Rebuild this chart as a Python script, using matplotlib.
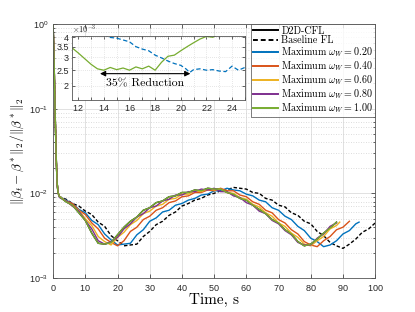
import numpy as np
import matplotlib
matplotlib.use("Agg")
import matplotlib.pyplot as plt
from matplotlib.ticker import FixedLocator, FixedFormatter, MultipleLocator, LogLocator, NullFormatter

plt.rcParams['font.family'] = ['Liberation Sans', 'DejaVu Sans']
plt.rcParams['mathtext.fontset'] = 'cm'
plt.rcParams['axes.formatter.use_mathtext'] = True

# ---- data (log10 of the relative error) ----
t_head = [0, 0.3, 0.6, 0.9, 1.2, 1.5]
e_head = [0, -0.45, -1.0, -1.5, -1.85, -1.99]

t_base = t_head + list(range(2, 101, 2))
e_base = e_head + [-2.04, -2.07, -2.12, -2.15, -2.21, -2.25, -2.34, -2.39, -2.50, -2.56,
                   -2.62, -2.61, -2.60, -2.51, -2.45, -2.37, -2.33, -2.26, -2.22, -2.15,
                   -2.12, -2.08, -2.06, -2.02, -2.00, -1.97, -1.96, -1.93, -1.94, -1.95,
                   -1.99, -2.00, -2.06, -2.08, -2.14, -2.16, -2.23, -2.26, -2.33, -2.36,
                   -2.45, -2.50, -2.58, -2.62, -2.65, -2.60, -2.54, -2.46, -2.42, -2.35]

t_w20 = t_head + list(range(2, 95, 2)) + [95]
e_w20 = e_head + [-2.04, -2.08, -2.12, -2.19, -2.23, -2.32, -2.37, -2.48, -2.55, -2.61,
                  -2.60, -2.59, -2.49, -2.43, -2.33, -2.29, -2.22, -2.20, -2.14, -2.12,
                  -2.08, -2.06, -2.02, -2.01, -1.97, -1.97, -1.94, -1.96, -1.97, -2.01,
                  -2.03, -2.08, -2.10, -2.17, -2.20, -2.27, -2.31, -2.39, -2.44, -2.53,
                  -2.57, -2.63, -2.61, -2.56, -2.48, -2.44, -2.36, -2.34]

t_w40 = t_head + list(range(2, 93, 2))
e_w40 = e_head + [-2.04, -2.09, -2.12, -2.20, -2.25, -2.35, -2.42, -2.53, -2.58, -2.62,
                  -2.56, -2.45, -2.40, -2.31, -2.27, -2.20, -2.17, -2.11, -2.09, -2.04,
                  -2.03, -1.99, -1.99, -1.96, -1.97, -1.94, -1.97, -1.97, -2.02, -2.04,
                  -2.10, -2.13, -2.20, -2.23, -2.31, -2.35, -2.43, -2.48, -2.57, -2.61,
                  -2.63, -2.56, -2.51, -2.43, -2.40, -2.33]

t_w60 = t_head + list(range(2, 89, 2)) + [89]
e_w60 = e_head + [-2.04, -2.09, -2.15, -2.20, -2.30, -2.38, -2.51, -2.57, -2.61, -2.52,
                  -2.46, -2.37, -2.32, -2.24, -2.21, -2.15, -2.13, -2.07, -2.06, -2.01,
                  -2.01, -1.97, -1.98, -1.95, -1.96, -1.95, -1.99, -2.00, -2.05, -2.07,
                  -2.13, -2.16, -2.23, -2.27, -2.35, -2.39, -2.47, -2.52, -2.60, -2.62,
                  -2.56, -2.51, -2.42, -2.38, -2.34]

t_w80 = t_head + list(range(2, 89, 2))
e_w80 = e_head + [-2.05, -2.09, -2.15, -2.21, -2.32, -2.42, -2.56, -2.60, -2.57, -2.52,
                  -2.42, -2.36, -2.28, -2.24, -2.17, -2.15, -2.09, -2.07, -2.02, -2.02,
                  -1.98, -1.98, -1.95, -1.96, -1.94, -1.98, -1.98, -2.03, -2.05, -2.11,
                  -2.14, -2.21, -2.24, -2.32, -2.36, -2.44, -2.49, -2.58, -2.61, -2.61,
                  -2.53, -2.48, -2.39, -2.35]

t_w100 = t_head + list(range(2, 89, 2))
e_w100 = e_head + [-2.04, -2.10, -2.14, -2.23, -2.32, -2.47, -2.59, -2.60, -2.58, -2.49,
                   -2.40, -2.33, -2.28, -2.20, -2.17, -2.11, -2.09, -2.04, -2.03, -1.99,
                   -1.99, -1.96, -1.97, -1.94, -1.95, -1.95, -1.99, -2.01, -2.06, -2.08,
                   -2.14, -2.19, -2.24, -2.31, -2.35, -2.43, -2.48, -2.57, -2.62, -2.60,
                   -2.54, -2.47, -2.41, -2.34]

# inset (values in units of 1e-3)
t_in_green = [11.5, 12.0, 12.5, 13.0, 13.5, 14.0, 14.5, 15.0, 15.5, 16.0, 16.5, 17.0,
              17.5, 18.0, 18.5, 19.0, 19.5, 20.0, 20.5, 21.0, 21.5, 22.0, 22.5, 23.0]
v_in_green = [3.45, 3.2, 2.95, 2.72, 2.55, 2.5, 2.6, 2.52, 2.58, 2.5, 2.62, 2.55,
              2.65, 2.5, 2.8, 3.05, 3.1, 3.3, 3.5, 3.7, 3.9, 4.05, 4.0, 4.2]
t_in_blue = [14.0, 14.4, 15.0, 15.5, 16.0, 16.5, 17.0, 17.5, 18.0, 18.5, 19.0, 19.5,
             20.0, 20.4, 20.7, 21.0, 21.5, 22.0, 22.5, 23.0, 23.5, 24.0, 24.5, 25.0]
v_in_blue = [4.2, 4.0, 3.95, 3.85, 3.75, 3.5, 3.38, 3.3, 3.1, 2.98, 2.85, 2.75,
             2.68, 2.55, 2.42, 2.52, 2.55, 2.5, 2.52, 2.47, 2.45, 2.65, 2.5, 2.6]

labels = ['D2D-CFL', 'Baseline FL',
          r'Maximum $\omega_W = 0.20$', r'Maximum $\omega_W = 0.40$',
          r'Maximum $\omega_W = 0.60$', r'Maximum $\omega_W = 0.80$',
          r'Maximum $\omega_W = 1.00$']
colors = ['#0072BD', '#D95319', '#EDB120', '#7E2F8E', '#77AC30']
axcol = '#262626'
serif = 'cmr10'

fig = plt.figure(figsize=(4.15, 3.12), dpi=100)
ax = fig.add_axes([0.128, 0.109, 0.776, 0.814])

lw = 1.0
ax.plot(t_w100, 10 ** np.array(e_w100), color='k', lw=lw, label=labels[0])
ax.plot(t_base, 10 ** np.array(e_base), color='k', ls=(0, (2.5, 1.5)), lw=lw, label=labels[1])
series = [(t_w20, e_w20), (t_w40, e_w40), (t_w60, e_w60), (t_w80, e_w80), (t_w100, e_w100)]
for (tt, ee), c, lab in zip(series, colors, labels[2:]):
    ax.plot(tt, 10 ** np.array(ee), color=c, lw=lw, label=lab)

ax.set_yscale('log')
ax.set_xlim(0, 100)
ax.set_ylim(1e-3, 1)
ax.xaxis.set_major_locator(MultipleLocator(10))
ax.yaxis.set_minor_locator(LogLocator(base=10, subs=np.arange(2, 10)))
ax.yaxis.set_minor_formatter(NullFormatter())
ax.grid(True, which='major', color='#dcdcdc', lw=0.6)
ax.grid(True, which='minor', axis='y', color='#d0d0d0', lw=0.6, ls=(0, (1, 2)))
ax.tick_params(which='both', direction='in', top=True, right=True, colors=axcol,
               labelsize=6.5, width=0.5)
ax.tick_params(which='major', length=3)
ax.tick_params(which='minor', length=1.5)
for s in ax.spines.values():
    s.set_color('#555555')
    s.set_linewidth(0.6)
ax.set_xlabel('Time, s', fontsize=11, labelpad=0, family=serif)
ax.set_ylabel(r'$\|\beta_t-\beta^*\|_2/\|\beta^*\|_2$', fontsize=9.5, labelpad=2)

leg = ax.legend(loc='upper right', bbox_to_anchor=(1.0, 1.0), borderaxespad=0,
                prop={'family': serif, 'size': 7.2}, frameon=True, fancybox=False,
                edgecolor='#444444', labelspacing=0.02, handlelength=2.5,
                handletextpad=0.3, borderpad=0.2)
leg.get_frame().set_linewidth(0.6)
for h in leg.get_lines():
    h.set_linewidth(1.4)

# inset
axi = fig.add_axes([0.173, 0.679, 0.417, 0.207])
axi.plot(t_in_blue, v_in_blue, color='#0072BD', ls=(0, (3.5, 2)), lw=0.9)
axi.plot(t_in_green, v_in_green, color='#77AC30', lw=0.9)
axi.set_yscale('log')
axi.set_xlim(11.5, 25)
axi.set_ylim(1.63, 4.1)
axi.yaxis.set_major_locator(FixedLocator([2, 2.5, 3, 3.5, 4]))
axi.yaxis.set_major_formatter(FixedFormatter(['2', '2.5', '3', '3.5', '4']))
axi.yaxis.set_minor_locator(FixedLocator([]))
axi.xaxis.set_major_locator(MultipleLocator(2))
axi.xaxis.set_minor_locator(MultipleLocator(1))
axi.grid(True, which='both', color='#cfcfcf', lw=0.5, ls=(0, (1, 2)))
axi.tick_params(which='both', direction='in', top=True, right=True, colors=axcol,
                labelsize=6.5, width=0.5, length=2, pad=2)
for s in axi.spines.values():
    s.set_color('#555555')
    s.set_linewidth(0.6)
axi.text(0.0, 1.01, r'$\times10^{-3}$', transform=axi.transAxes, fontsize=6,
         color=axcol, ha='left', va='bottom')
axi.annotate('', xy=(13.7, 2.38), xytext=(20.75, 2.38),
             arrowprops=dict(arrowstyle='<|-|>', color='k', lw=0.8,
                             mutation_scale=8, shrinkA=0, shrinkB=0))
axi.text(17.2, 2.05, '35% Reduction', fontsize=8.5, ha='center', va='center', family=serif)

fig.savefig('out.png', dpi=100)
